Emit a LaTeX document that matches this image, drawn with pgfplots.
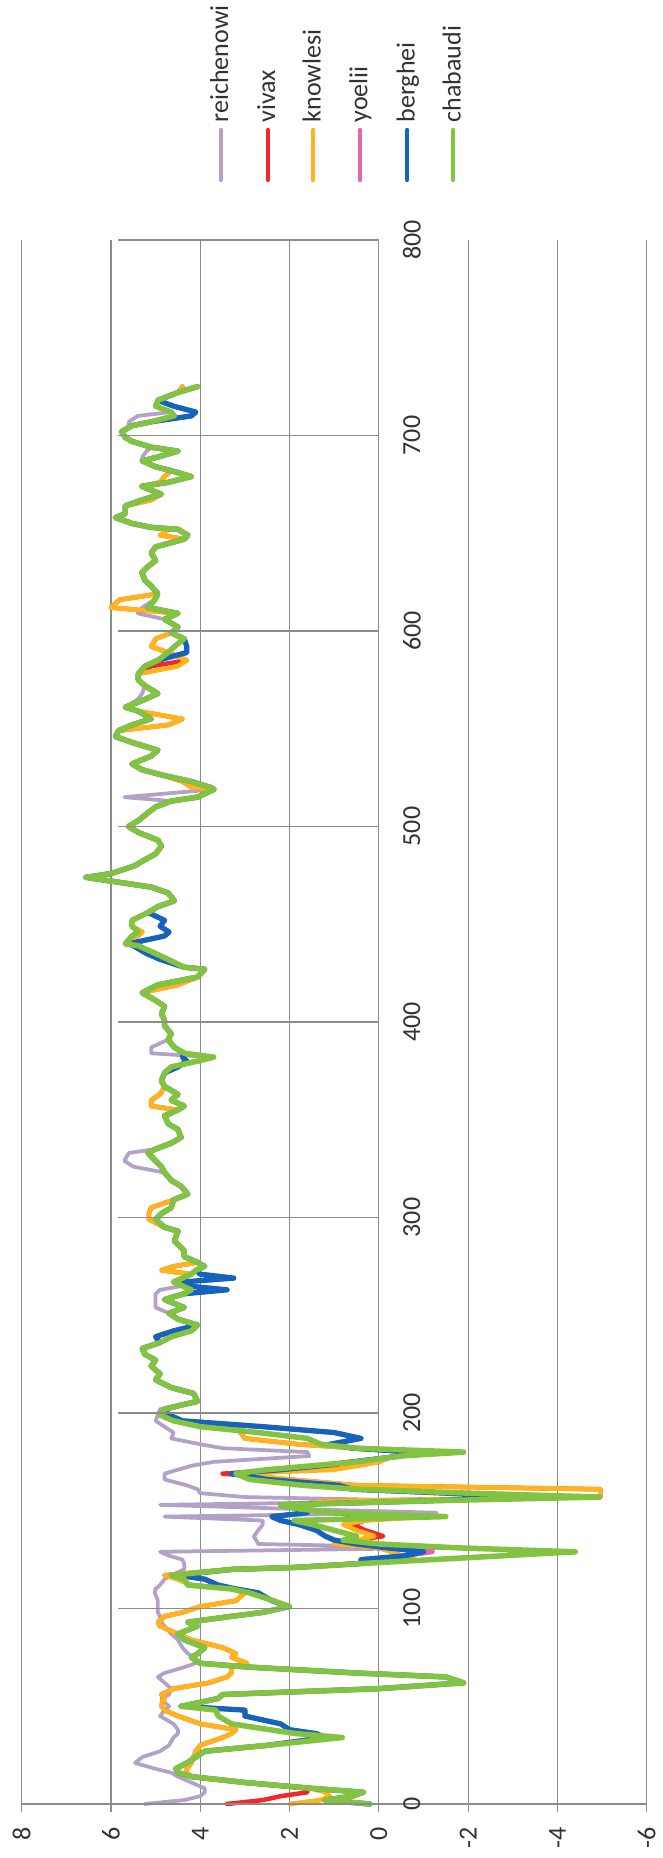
\documentclass[border=0pt]{standalone}
\usepackage{pgfplots}
\usepackage{pgfplotstable}
\pgfplotsset{compat=1.18}
\usepackage{fontspec}
\setmainfont{Carlito}
\definecolor{gridgray}{RGB}{140,140,140}
\definecolor{textgray}{RGB}{50,50,50}
\definecolor{lavc}{RGB}{179,162,199}
\definecolor{redc}{RGB}{240,40,40}
\definecolor{orac}{RGB}{255,180,30}
\definecolor{pinkc}{RGB}{230,100,170}
\definecolor{bluec}{RGB}{20,100,190}
\definecolor{greenc}{RGB}{130,195,65}
\pgfplotstableread{
p lav viv kno yoe ber cha
0 5.24 3.4 2.0 0.2 0.2 0.2
2 4.36 2.6 1.3 1.2 1.2 1.2
4 4.0 2.2 1.1 0.6 0.6 0.6
6 3.9 1.6 1.2 0.35 0.35 0.35
8 3.9 1.6 1.5 1.5 1.5 1.5
11 4.2 3.0 3.0 3.0 3.0 3.0
14 4.5 4.2 4.2 4.2 4.2 4.2
16 4.65 4.3 4.3 4.5 4.5 4.5
18 5.0 4.3 4.3 4.55 4.55 4.55
21 5.46 4.2 4.2 4.3 4.3 4.3
24 5.3 4.15 4.15 4.1 4.1 4.1
27 4.9 4.1 4.1 3.9 3.9 3.9
30 4.7 4.0 4.0 2.5 2.5 2.5
34 4.6 3.5 3.5 1.2 1.2 0.82
36 4.5 3.3 3.3 1.4 1.4 1.85
38 4.5 3.2 3.2 2.0 2.0 2.44
41 4.6 4.0 4.0 2.2 2.2 3.3
45 4.9 4.5 4.5 3.0 3.0 3.6
48 4.8 4.8 4.8 3.0 3.0 3.65
50 4.7 4.87 4.87 4.43 4.43 4.43
52 4.8 4.85 4.85 4.0 4.0 4.0
54 4.87 4.8 4.8 3.6 3.6 3.6
56 4.7 4.87 4.87 3.5 3.5 3.5
59 4.65 4.6 4.6 0.0 0.0 0.0
62 4.8 3.8 3.8 -1.9 -1.9 -1.9
65 4.95 3.4 3.4 -1.5 -1.5 -1.5
67 4.8 3.3 3.3 0.5 0.5 0.5
70 4.36 3.3 3.3 2.9 2.9 2.9
72 4.1 2.95 2.95 4.0 4.0 4.0
75 4.15 3.3 3.3 4.2 4.2 4.2
77 4.28 3.2 3.2 4.05 4.05 4.05
80 4.4 3.5 3.5 3.9 3.9 3.9
84 4.5 4.2 4.2 4.36 4.36 4.36
87 4.65 4.5 4.5 4.5 4.5 4.5
91 4.8 4.9 4.9 4.06 4.06 4.06
93 4.87 4.95 4.95 4.28 4.28 4.28
96 4.9 4.8 4.8 3.3 3.3 3.3
98 4.95 4.4 4.4 2.6 2.6 2.6
101 4.95 4.0 4.0 2.0 2.0 2.0
104 4.95 3.2 3.2 2.4 2.4 2.37
108 5.02 3.0 3.0 2.7 2.7 2.9
110 5.0 3.3 3.3 3.2 3.2 3.3
112 4.9 4.2 4.2 3.6 3.6 4.28
115 4.8 4.5 4.5 3.9 3.9 4.36
117 4.65 4.8 4.8 4.5 4.5 4.65
120 4.36 3.3 3.3 3.3 3.3 3.3
121 4.36 2.0 2.0 1.85 1.85 1.85
123 4.36 0.5 0.5 0.4 0.4 0.38
125 4.4 -0.8 -0.8 0.4 0.4 -1.2
127 4.7 -0.5 -0.5 -0.6 -0.6 -2.8
129 4.9 -0.3 -0.3 -1.2 -1.0 -4.4
131 -1.5 0.0 0.0 -0.2 -0.2 -1.8
133 2.7 1.0 1.0 0.5 0.5 0.0
135 2.75 0.5 0.5 1.0 1.0 0.8
137 2.8 -0.1 0.1 1.2 1.2 0.5
140 2.7 0.3 0.5 1.4 1.4 1.0
143 2.6 0.6 0.8 1.8 1.8 1.5
145 2.6 0.3 0.3 2.2 2.2 1.9
147 4.8 0.4 -1.0 2.4 2.4 -1.5
149 -1.3 1.0 1.0 1.6 1.6 1.0
151 2.0 1.7 1.7 1.8 1.8 1.8
153 4.9 2.0 2.0 2.2 2.2 2.2
155 -1.3 1.0 1.0 -1.0 -1.0 -1.0
157 3.0 -4.96 -4.96 -3.5 -3.5 -4.95
159 4.0 -4.96 -4.96 -1.5 -1.5 -2.0
161 4.06 -4.96 -4.96 0.6 0.6 0.5
163 4.3 0.5 0.5 0.9 0.9 1.7
166 4.8 2.0 2.0 2.5 2.5 2.9
169 4.8 3.5 3.2 3.3 3.3 3.2
171 4.5 1.5 1.0 2.2 2.2 2.5
173 4.2 0.5 0.5 1.3 1.3 1.5
175 3.7 0.0 0.0 0.6 0.6 0.5
178 1.56 -0.3 -0.3 -0.5 -0.5 -0.5
180 1.6 -1.2 -1.2 -0.8 -0.8 -1.9
182 3.5 0.5 0.5 0.6 0.6 0.5
184 4.0 1.8 1.8 1.1 1.1 1.3
187 4.65 3.0 3.0 0.4 0.4 1.6
190 4.6 3.1 3.1 1.0 1.0 2.7
193 4.8 3.2 3.2 2.6 2.6 4.0
196 5.0 4.5 4.5 4.4 4.4 4.6
199 4.95 4.9 4.9 4.7 4.7 4.9
202 4.9 4.8 4.8 4.8 4.8 4.8
206 4.1 4.06 4.06 4.06 4.06 4.06
210 4.15 4.15 4.15 4.15 4.15 4.15
213 4.65 4.65 4.65 4.65 4.65 4.65
217 5.0 5.0 5.0 5.0 5.0 5.0
220 4.9 4.9 4.9 4.9 4.9 4.9
224 5.1 5.1 5.1 5.1 5.1 5.1
227 5.0 5.0 5.0 5.0 5.0 5.0
230 5.24 5.24 5.24 5.24 5.24 5.24
233 5.3 5.3 5.3 5.3 5.3 5.3
236 4.9 4.9 4.9 4.9 4.9 4.9
239 4.65 4.65 4.65 5.0 5.0 4.65
242 4.2 4.2 4.2 4.6 4.6 4.2
245 4.06 4.06 4.06 4.06 4.06 4.06
248 4.5 4.5 4.5 4.5 4.5 4.5
251 4.7 4.7 4.7 4.7 4.7 4.7
254 5.0 4.36 4.36 4.36 4.36 4.36
258 5.0 4.8 4.8 4.8 4.8 4.8
261 5.0 4.36 4.36 4.36 4.36 4.36
263 4.9 4.2 4.2 3.4 3.4 4.2
265 4.4 4.4 4.4 4.3 4.3 4.4
267 4.6 4.6 4.6 4.4 4.4 4.6
269 4.4 4.4 4.4 3.25 3.25 4.4
271 4.2 4.2 4.2 4.0 4.0 4.2
273 4.1 4.87 4.87 4.1 4.1 4.1
275 3.9 4.6 4.6 3.9 3.9 3.9
277 4.06 4.06 4.06 4.06 4.06 4.06
280 4.36 4.36 4.36 4.36 4.36 4.36
283 4.36 4.36 4.36 4.36 4.36 4.36
288 4.58 4.58 4.58 4.58 4.58 4.58
293 4.5 4.5 4.5 4.5 4.5 4.5
295 4.8 4.8 4.8 4.8 4.8 4.8
299 5.0 5.15 5.15 5.0 5.0 5.0
302 4.87 5.15 5.15 4.87 4.87 4.87
305 4.65 5.1 5.1 4.65 4.65 4.65
309 4.6 4.6 4.6 4.6 4.6 4.6
312 4.28 4.28 4.28 4.28 4.28 4.28
316 4.43 4.43 4.43 4.43 4.43 4.43
319 4.65 4.65 4.65 4.65 4.65 4.65
323 4.8 4.8 4.8 4.8 4.8 4.8
326 5.5 4.87 4.87 4.87 4.87 4.87
329 5.7 5.0 5.0 5.0 5.0 5.0
333 5.6 5.17 5.17 5.17 5.17 5.17
335 5.0 5.0 5.0 5.0 5.0 5.0
338 4.65 4.65 4.65 4.65 4.65 4.65
341 4.43 4.43 4.43 4.43 4.43 4.43
345 4.5 4.5 4.5 4.5 4.5 4.5
348 4.72 4.72 4.72 4.72 4.72 4.72
352 4.8 4.8 4.8 4.8 4.8 4.8
355 4.5 4.5 4.5 4.5 4.5 4.5
357 4.36 5.1 5.1 4.36 4.36 4.36
360 4.65 5.1 5.1 4.65 4.65 4.65
363 4.5 4.9 4.9 4.5 4.5 4.5
367 4.8 4.8 4.8 4.8 4.8 4.8
370 4.87 4.87 4.87 4.87 4.87 4.87
374 4.8 4.8 4.8 4.8 4.8 4.8
377 4.65 4.65 4.65 4.5 4.5 4.65
380 4.06 4.06 4.06 4.3 4.3 4.06
382 3.7 3.7 3.7 4.4 4.4 3.7
384 5.1 4.36 4.36 4.36 4.36 4.36
387 5.1 4.58 4.58 4.58 4.58 4.58
391 4.72 4.72 4.72 4.72 4.72 4.72
394 4.65 4.65 4.65 4.65 4.65 4.65
398 4.8 4.8 4.8 4.8 4.8 4.8
401 4.8 4.8 4.8 4.8 4.8 4.8
404 4.87 4.87 4.87 4.87 4.87 4.87
408 4.8 4.8 4.8 4.8 4.8 4.8
411 5.0 5.0 5.0 5.0 5.0 5.0
415 5.3 5.3 5.3 5.3 5.3 5.3
419 4.95 4.5 4.5 4.95 4.95 4.95
423 4.06 4.06 4.06 4.06 4.06 4.06
427 3.9 3.9 3.9 3.9 3.9 3.9
428 4.36 4.36 4.36 4.36 4.36 4.36
432 4.72 4.72 4.72 4.9 4.9 4.72
435 5.0 5.0 5.0 5.2 5.2 5.0
439 5.39 5.39 5.39 5.5 5.5 5.39
440 5.68 5.68 5.68 5.6 5.6 5.68
444 5.53 5.4 5.4 4.8 4.8 5.53
446 5.39 5.3 5.3 4.7 4.7 5.39
449 5.53 5.53 5.53 4.9 4.9 5.53
452 5.53 5.53 5.53 4.8 4.8 5.53
456 5.17 5.17 5.17 5.17 5.17 5.17
459 4.95 4.95 4.95 4.95 4.95 4.95
462 4.58 4.58 4.58 4.58 4.58 4.58
466 4.72 4.72 4.72 4.72 4.72 4.72
469 5.1 5.1 5.1 5.1 5.1 5.1
473 6.27 6.27 6.27 6.27 6.27 6.27
474 6.56 6.56 6.56 6.56 6.56 6.56
476 5.98 5.98 5.98 5.98 5.98 5.98
480 5.46 5.46 5.46 5.46 5.46 5.46
483 5.24 5.24 5.24 5.24 5.24 5.24
486 5.0 5.0 5.0 5.0 5.0 5.0
490 4.87 4.87 4.87 4.87 4.87 4.87
493 4.95 4.95 4.95 4.95 4.95 4.95
497 5.39 5.39 5.39 5.39 5.39 5.39
500 5.61 5.61 5.61 5.61 5.61 5.61
503 5.39 5.39 5.39 5.39 5.39 5.39
507 5.17 5.17 5.17 5.17 5.17 5.17
510 5.0 5.0 5.0 5.0 5.0 5.0
513 4.65 4.65 4.65 4.65 4.65 4.65
515 5.7 4.06 4.06 4.06 4.06 4.06
519 3.69 3.69 3.69 3.69 3.69 3.69
520 3.77 4.2 4.2 3.77 3.77 3.77
523 4.2 4.4 4.4 4.2 4.2 4.2
526 4.8 4.8 4.8 4.8 4.8 4.8
529 5.3 5.3 5.3 5.3 5.3 5.3
532 5.53 5.53 5.53 5.53 5.53 5.53
536 5.1 5.1 5.1 5.1 5.1 5.1
539 4.95 4.95 4.95 4.95 4.95 4.95
543 5.53 5.53 5.53 5.53 5.53 5.53
546 5.9 5.9 5.9 5.9 5.9 5.9
549 5.83 5.83 5.83 5.83 5.83 5.83
552 5.53 4.7 4.7 5.53 5.53 5.53
555 5.1 4.4 4.4 5.1 5.1 5.1
559 5.39 5.39 5.39 5.39 5.39 5.39
561 5.68 5.68 5.68 5.68 5.68 5.68
565 5.4 5.24 5.24 5.24 5.24 5.24
568 5.3 4.95 4.95 4.95 4.95 4.95
572 5.24 5.24 5.24 5.24 5.24 5.24
575 5.39 5.39 5.39 5.39 5.39 5.39
578 5.39 5.39 5.39 5.39 5.39 5.39
582 5.24 5.1 4.5 5.24 5.24 5.24
585 4.95 4.3 4.3 4.95 4.95 4.95
589 4.72 4.72 4.72 4.3 4.3 4.72
592 4.58 5.1 5.1 4.3 4.3 4.58
596 4.36 5.0 5.0 4.36 4.36 4.36
599 4.65 4.65 4.65 4.65 4.65 4.65
602 4.5 4.5 4.5 4.5 4.5 4.5
606 4.8 4.8 4.8 4.8 4.8 4.8
609 5.4 4.5 4.5 4.5 4.5 4.5
612 5.3 6.0 6.0 5.17 5.17 5.17
616 5.02 5.8 5.8 5.02 5.02 5.02
619 4.95 4.95 4.95 4.95 4.95 4.95
623 5.1 5.1 5.1 5.1 5.1 5.1
626 5.24 5.24 5.24 5.24 5.24 5.24
630 5.31 5.31 5.31 5.31 5.31 5.31
633 5.17 5.17 5.17 5.17 5.17 5.17
636 5.0 5.0 5.0 5.0 5.0 5.0
640 5.1 5.1 5.1 5.1 5.1 5.1
643 5.0 5.0 5.0 5.0 5.0 5.0
647 4.36 4.36 4.36 4.36 4.36 4.36
649 4.28 4.9 4.9 4.28 4.28 4.28
652 4.5 4.7 4.7 4.5 4.5 4.5
653 5.1 5.1 5.1 5.1 5.1 5.1
655 5.53 5.53 5.53 5.53 5.53 5.53
658 5.9 5.9 5.9 5.9 5.9 5.9
660 5.68 5.68 5.68 5.68 5.68 5.68
664 5.68 5.68 5.68 5.68 5.68 5.68
667 5.31 5.1 5.1 5.31 5.31 5.31
670 4.87 4.87 4.87 4.87 4.87 4.87
672 5.1 5.1 5.1 5.1 5.1 5.1
674 5.31 5.31 5.31 5.31 5.31 5.31
676 4.72 4.9 4.9 4.72 4.72 4.72
679 4.2 4.8 4.8 4.2 4.2 4.2
682 4.65 4.65 4.65 4.65 4.65 4.65
684 5.0 5.0 5.0 5.0 5.0 5.0
687 5.3 5.3 5.3 5.3 5.3 5.3
689 5.3 4.95 4.95 4.95 4.95 4.95
692 5.2 4.5 4.5 4.5 4.5 4.5
694 5.1 5.1 5.1 5.1 5.1 5.1
697 5.53 5.53 5.53 5.53 5.53 5.53
699 5.68 5.68 5.68 5.68 5.68 5.68
702 5.76 5.76 5.76 5.76 5.76 5.76
705 5.6 5.53 5.53 5.53 5.53 5.53
707 5.6 5.1 5.1 5.1 5.1 5.1
710 5.4 4.58 4.58 4.2 4.2 4.58
712 4.65 4.65 4.65 4.1 4.1 4.65
715 5.0 5.0 5.0 4.6 4.6 5.0
718 4.95 4.95 4.95 4.95 4.95 4.95
722 4.5 4.5 4.5 4.5 4.5 4.5
725 4.06 4.4 4.4 4.06 4.06 4.06
}\data
\begin{document}
\begin{tikzpicture}
\path (-8.68pt,-21.6pt) rectangle (256.3pt,721.6pt);
\begin{axis}[
  at={(0,0)}, anchor=south west,
  scale only axis, width=250pt, height=625.6pt,
  xmin=-6, xmax=8, ymin=0, ymax=800,
  x dir=reverse,
  axis x line=bottom, axis y line=none,
  axis line style={draw=gridgray, line width=0.5pt, -},
  xtick={-6,-4,-2,0,2,4,6,8},
  xticklabels={-6,-4,-2,0,2,4,6,8},
  xtick align=outside,
  major tick length=3.2pt,
  tick style={gridgray, line width=0.5pt},
  xticklabel shift=6pt,
  xticklabel style={rotate=90, anchor=east, inner sep=0pt, font=\fontsize{10.4}{12}\selectfont, text=textgray},
  ytick=\empty,
  xmajorgrids, grid style={gridgray, line width=0.5pt},
  clip=false, no markers,
  every axis plot/.append style={line join=round, line cap=round},
]
\addplot[lavc, line width=1.5pt] table[x=lav, y=p]{\data};
\addplot[redc, line width=1.8pt] table[x=viv, y=p]{\data};
\addplot[orac, line width=1.9pt] table[x=kno, y=p]{\data};
\addplot[pinkc, line width=1.9pt] table[x=yoe, y=p]{\data};
\addplot[bluec, line width=2.1pt] table[x=ber, y=p]{\data};
\addplot[greenc, line width=2.2pt] table[x=cha, y=p]{\data};
\pgfplotsinvokeforeach{0,100,...,800}{
  \draw[gridgray, line width=0.5pt] (axis cs:0,#1) -- ++(2.8pt,0);
  \node[rotate=90, inner sep=0pt, font=\fontsize{10.4}{12}\selectfont, text=textgray] at ([xshift=13.2pt]axis cs:0,#1) {#1};
}
\end{axis}
\foreach \x/\c/\t in {79.6/lavc/reichenowi, 98.4/redc/vivax, 116.6/orac/knowlesi, 135.3/pinkc/yoelii, 154.2/bluec/berghei, 172.6/greenc/chabaudi}{
  \draw[\c, line width=1.7pt, line cap=round] (\x pt,649.6pt) -- (\x pt,669.6pt);
  \node[rotate=90, anchor=base west, inner sep=0pt, font=\fontsize{10.4}{12}\selectfont, text=textgray] at (\x pt+3pt,672.4pt) {\t};
}
\end{tikzpicture}
\end{document}
